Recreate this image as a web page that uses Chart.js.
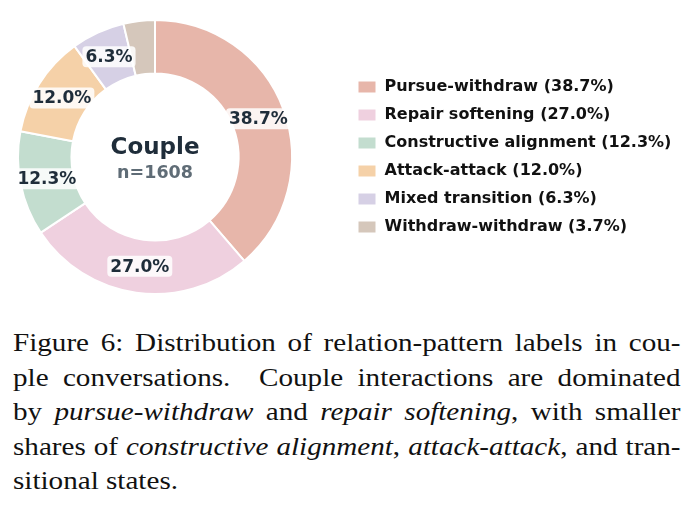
<!DOCTYPE html>
<html>
<head>
<meta charset="utf-8">
<script src="https://cdn.jsdelivr.net/npm/chart.js@4.4.1/dist/chart.umd.min.js"></script>
<style>
  html, body { margin: 0; padding: 0; background: #fff; }
  #chartBox { position: absolute; left: 0; top: 0; width: 691px; height: 310px; }
  #caption {
    position: absolute; left: 13px; top: 326px; width: 596px;
    transform: scaleX(1.12); transform-origin: 0 0;
    font-family: "Liberation Serif", "Times New Roman", serif;
    font-size: 26px; line-height: 34.5px; color: #111;
  }
  #caption .ln { display: block; white-space: nowrap; text-align: justify; text-align-last: justify; }
  #caption .ln.last { text-align-last: left; }
</style>
</head>
<body>
<div id="chartBox"><canvas id="coupleChart" width="691" height="310"></canvas></div>
<div id="caption">
  <span class="ln">Figure 6: Distribution of relation-pattern labels in cou-</span>
  <span class="ln">ple conversations.&nbsp; Couple interactions are dominated</span>
  <span class="ln">by <i>pursue-withdraw</i> and <i>repair softening</i>, with smaller</span>
  <span class="ln">shares of <i>constructive alignment</i>, <i>attack-attack</i>, and tran-</span>
  <span class="ln last">sitional states.</span>
</div>
<script>
// data
const categories = ['Pursue-withdraw', 'Repair softening', 'Constructive alignment', 'Attack-attack', 'Mixed transition', 'Withdraw-withdraw'];
const shares = [38.7, 27.0, 12.3, 12.0, 6.3, 3.7];
const sliceColors = ['#e7b6aa', '#efd0df', '#c3ddcf', '#f5d1a8', '#d6d0e5', '#d5c7bb'];
const centerTitle = 'Couple';
const centerCount = 'n=1608';

const FONT = '"DejaVu Sans", sans-serif';

// keep the ring on the left: make the plot area square
const squareArea = {
  id: 'squareArea',
  afterLayout: function(chart) {
    const a = chart.chartArea;
    const side = Math.min(a.right - a.left, a.bottom - a.top);
    a.right = a.left + side;
    a.width = side;
  }
};

// percent tags on the slices + the text in the hole
const sliceTags = {
  id: 'sliceTags',
  afterDatasetsDraw: function(chart) {
    const ctx = chart.ctx;
    const meta = chart.getDatasetMeta(0);
    ctx.save();
    ctx.font = 'bold 17px ' + FONT;
    ctx.textAlign = 'center';
    ctx.textBaseline = 'middle';
    meta.data.forEach(function(arc, i) {
      if (shares[i] < 5) return;
      const p = arc.tooltipPosition();
      const txt = shares[i].toFixed(1) + '%';
      const w = ctx.measureText(txt).width + 6;
      const h = 21;
      ctx.fillStyle = 'rgba(255,255,255,0.85)';
      ctx.beginPath();
      ctx.roundRect(p.x - w / 2, p.y - h / 2, w, h, 4);
      ctx.fill();
      ctx.fillStyle = '#1f2d3a';
      ctx.fillText(txt, p.x, p.y + 1);
    });
    const a = chart.chartArea;
    const cx = (a.left + a.right) / 2;
    const cy = (a.top + a.bottom) / 2;
    ctx.fillStyle = '#1f2d3a';
    ctx.font = 'bold 23px ' + FONT;
    ctx.fillText(centerTitle, cx, cy - 9);
    ctx.fillStyle = '#5f6c76';
    ctx.font = 'bold 17.5px ' + FONT;
    ctx.fillText(centerCount, cx, cy + 16);
    ctx.restore();
  }
};

const ctx = document.getElementById('coupleChart');
new Chart(ctx, {
  type: 'doughnut',
  data: {
    labels: categories,
    datasets: [{
      data: shares,
      backgroundColor: sliceColors,
      borderColor: '#ffffff',
      borderWidth: 2
    }]
  },
  options: {
    responsive: false,
    animation: false,
    events: [],
    cutout: '61%',
    layout: { padding: { left: 17, top: 19, bottom: 15, right: 17 } },
    plugins: {
      tooltip: { enabled: false },
      legend: {
        position: 'right',
        align: 'center',
        labels: {
          boxWidth: 19,
          boxHeight: 13,
          padding: 12,
          color: '#111111',
          font: { family: FONT, weight: 'bold', size: 16 },
          generateLabels: function(chart) {
            const items = Chart.overrides.doughnut.plugins.legend.labels.generateLabels(chart);
            items.forEach(function(it, i) {
              it.text = categories[i] + ' (' + shares[i].toFixed(1) + '%)';
            });
            return items;
          }
        }
      }
    }
  },
  plugins: [squareArea, sliceTags]
});
</script>
</body>
</html>
